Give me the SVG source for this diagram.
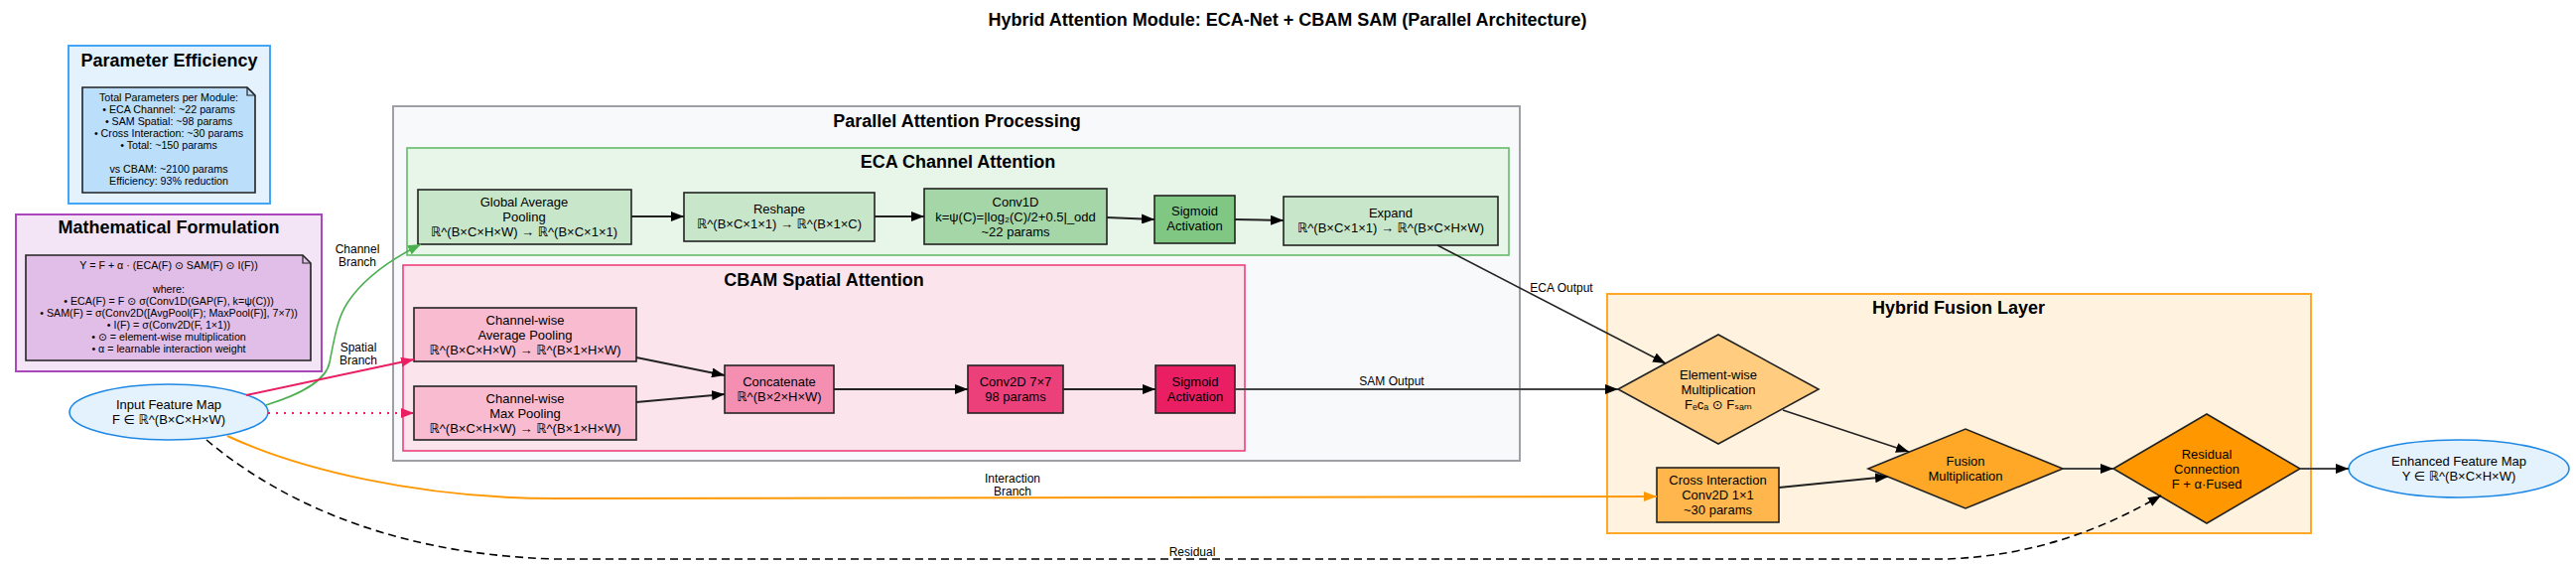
<svg xmlns="http://www.w3.org/2000/svg" width="2595" height="569" viewBox="0 0 2595 569">
<style>
text{font-family:"Liberation Sans","DejaVu Sans",Arial,sans-serif;text-anchor:middle;fill:#000}
.tt{font-size:18px;font-weight:bold}
.ct{font-size:18px;font-weight:bold}
.nt{font-size:13px}
.nn{font-size:10.7px}
.el{font-size:12px}
.box{stroke:#222;stroke-width:1.6}
.e{fill:none;stroke:#222;stroke-width:2}
</style>
<defs>
<marker id="ak" viewBox="0 0 13 10" refX="13" refY="5" markerWidth="13" markerHeight="10" markerUnits="userSpaceOnUse" orient="auto"><path d="M0,0 L13,5 L0,10 z" fill="#000"/></marker>
<marker id="ag" viewBox="0 0 13 10" refX="13" refY="5" markerWidth="13" markerHeight="10" markerUnits="userSpaceOnUse" orient="auto"><path d="M0,0 L13,5 L0,10 z" fill="#4caf50"/></marker>
<marker id="ap" viewBox="0 0 13 10" refX="13" refY="5" markerWidth="13" markerHeight="10" markerUnits="userSpaceOnUse" orient="auto"><path d="M0,0 L13,5 L0,10 z" fill="#e91e63"/></marker>
<marker id="ao" viewBox="0 0 13 10" refX="13" refY="5" markerWidth="13" markerHeight="10" markerUnits="userSpaceOnUse" orient="auto"><path d="M0,0 L13,5 L0,10 z" fill="#ff9800"/></marker>
</defs>
<rect width="2595" height="569" fill="#fff"/>
<text class="tt" x="1297" y="26">Hybrid Attention Module: ECA-Net + CBAM SAM (Parallel Architecture)</text>

<g id="cluster_params">
<rect x="69" y="46" width="203" height="159" fill="#e3f2fd" stroke="#42a5f5" stroke-width="2"/>
<text class="ct" x="170.5" y="67">Parameter Efficiency</text>
</g>
<g id="params_note">
<path d="M83,88 H249 L257,96 V194 H83 Z" fill="#bbdefb" stroke="#222" stroke-width="1.6"/>
<path d="M249,88 V96 H257" fill="none" stroke="#222" stroke-width="1.2"/>
<text class="nn" x="170" y="102">Total Parameters per Module:</text>
<text class="nn" x="170" y="114">• ECA Channel: ~22 params</text>
<text class="nn" x="170" y="126">• SAM Spatial: ~98 params</text>
<text class="nn" x="170" y="138">• Cross Interaction: ~30 params</text>
<text class="nn" x="170" y="150">• Total: ~150 params</text>
<text class="nn" x="170" y="174">vs CBAM: ~2100 params</text>
<text class="nn" x="170" y="186">Efficiency: 93% reduction</text>
</g>

<g id="cluster_math">
<rect x="16" y="216" width="308" height="158" fill="#f3e5f5" stroke="#ab47bc" stroke-width="2"/>
<text class="ct" x="170" y="235">Mathematical Formulation</text>
</g>
<g id="math_note">
<path d="M26,257 H305 L313,265 V363 H26 Z" fill="#e1bee7" stroke="#222" stroke-width="1.6"/>
<path d="M305,257 V265 H313" fill="none" stroke="#222" stroke-width="1.2"/>
<text class="nn" x="170" y="271">Y = F + α · (ECA(F) ⊙ SAM(F) ⊙ I(F))</text>
<text class="nn" x="170" y="295">where:</text>
<text class="nn" x="170" y="307">• ECA(F) = F ⊙ σ(Conv1D(GAP(F), k=ψ(C)))</text>
<text class="nn" x="170" y="319">• SAM(F) = σ(Conv2D([AvgPool(F); MaxPool(F)], 7×7))</text>
<text class="nn" x="170" y="331">• I(F) = σ(Conv2D(F, 1×1))</text>
<text class="nn" x="170" y="343">• ⊙ = element-wise multiplication</text>
<text class="nn" x="170" y="355">• α = learnable interaction weight</text>
</g>

<g id="cluster_parallel">
<rect x="396" y="107" width="1135" height="357" fill="#f8f9fa" stroke="#9ea0a6" stroke-width="2"/>
<text class="ct" x="964" y="128">Parallel Attention Processing</text>
</g>
<g id="cluster_eca">
<rect x="410" y="149" width="1110" height="108" fill="#e8f5e9" stroke="#66bb6a" stroke-width="1.6"/>
<text class="ct" x="965" y="169">ECA Channel Attention</text>
</g>
<g id="cluster_cbam">
<rect x="406" y="267" width="848" height="187" fill="#fce4ec" stroke="#ec407a" stroke-width="1.6"/>
<text class="ct" x="830" y="288">CBAM Spatial Attention</text>
</g>
<g id="cluster_fusion">
<rect x="1619" y="296" width="709" height="241" fill="#fff3e0" stroke="#ffa726" stroke-width="2"/>
<text class="ct" x="1973" y="316">Hybrid Fusion Layer</text>
</g>

<g id="input">
<ellipse cx="170" cy="415" rx="100" ry="28" fill="#e3f2fd" stroke="#1e88e5" stroke-width="1.6"/>
<text class="nt" x="170" y="412">Input Feature Map</text>
<text class="nt" x="170" y="427">F ∈ ℝ^(B×C×H×W)</text>
</g>

<g id="gap">
<rect class="box" x="421" y="191" width="215" height="55" fill="#c8e6c9"/>
<text class="nt" x="528" y="207.5">Global Average</text>
<text class="nt" x="528" y="222.5">Pooling</text>
<text class="nt" x="528" y="237.5">ℝ^(B×C×H×W) → ℝ^(B×C×1×1)</text>
</g>
<g id="reshape">
<rect class="box" x="689" y="194" width="192" height="49" fill="#c8e6c9"/>
<text class="nt" x="785" y="215">Reshape</text>
<text class="nt" x="785" y="230">ℝ^(B×C×1×1) → ℝ^(B×1×C)</text>
</g>
<g id="conv1d">
<rect class="box" x="931" y="190" width="184" height="56" fill="#a5d6a7"/>
<text class="nt" x="1023" y="207.5">Conv1D</text>
<text class="nt" x="1023" y="222.5">k=ψ(C)=|log₂(C)/2+0.5|_odd</text>
<text class="nt" x="1023" y="237.5">~22 params</text>
</g>
<g id="eca_sigmoid">
<rect class="box" x="1163" y="197" width="81" height="48" fill="#81c784"/>
<text class="nt" x="1203.5" y="217">Sigmoid</text>
<text class="nt" x="1203.5" y="232">Activation</text>
</g>
<g id="expand">
<rect class="box" x="1293" y="198" width="216" height="49" fill="#c8e6c9"/>
<text class="nt" x="1401" y="219">Expand</text>
<text class="nt" x="1401" y="234">ℝ^(B×C×1×1) → ℝ^(B×C×H×W)</text>
</g>

<g id="avgpool">
<rect class="box" x="417" y="310" width="224" height="54" fill="#f8bbd0"/>
<text class="nt" x="529" y="326.5">Channel-wise</text>
<text class="nt" x="529" y="341.5">Average Pooling</text>
<text class="nt" x="529" y="356.5">ℝ^(B×C×H×W) → ℝ^(B×1×H×W)</text>
</g>
<g id="maxpool">
<rect class="box" x="417" y="389" width="224" height="54" fill="#f8bbd0"/>
<text class="nt" x="529" y="405.5">Channel-wise</text>
<text class="nt" x="529" y="420.5">Max Pooling</text>
<text class="nt" x="529" y="435.5">ℝ^(B×C×H×W) → ℝ^(B×1×H×W)</text>
</g>
<g id="concat">
<rect class="box" x="730" y="368" width="110" height="48" fill="#f48fb1"/>
<text class="nt" x="785" y="388.5">Concatenate</text>
<text class="nt" x="785" y="403.5">ℝ^(B×2×H×W)</text>
</g>
<g id="conv2d">
<rect class="box" x="975" y="368" width="96" height="48" fill="#ec407a"/>
<text class="nt" x="1023" y="388.5">Conv2D 7×7</text>
<text class="nt" x="1023" y="403.5">98 params</text>
</g>
<g id="sam_sigmoid">
<rect class="box" x="1164" y="368" width="80" height="48" fill="#e91e63"/>
<text class="nt" x="1204" y="388.5">Sigmoid</text>
<text class="nt" x="1204" y="403.5">Activation</text>
</g>

<g id="elementwise">
<polygon class="box" points="1630,392 1731,337 1832,392 1731,447" fill="#ffcc80"/>
<text class="nt" x="1731" y="381.5">Element-wise</text>
<text class="nt" x="1731" y="396.5">Multiplication</text>
<text class="nt" x="1731" y="411.5">Fₑcₐ ⊙ Fₛₐₘ</text>
</g>
<g id="cross">
<rect class="box" x="1669" y="471" width="123" height="55" fill="#ffb74d"/>
<text class="nt" x="1730.5" y="488">Cross Interaction</text>
<text class="nt" x="1730.5" y="503">Conv2D 1×1</text>
<text class="nt" x="1730.5" y="518">~30 params</text>
</g>
<g id="fusion">
<polygon class="box" points="1882,472 1980,432 2078,472 1980,512" fill="#ffa726"/>
<text class="nt" x="1980" y="469">Fusion</text>
<text class="nt" x="1980" y="484">Multiplication</text>
</g>
<g id="residual">
<polygon class="box" points="2129,472 2223,417 2317,472 2223,527" fill="#ff9800"/>
<text class="nt" x="2223" y="461.5">Residual</text>
<text class="nt" x="2223" y="476.5">Connection</text>
<text class="nt" x="2223" y="491.5">F + α·Fused</text>
</g>
<g id="output">
<ellipse cx="2477" cy="472" rx="111" ry="29" fill="#e3f2fd" stroke="#1e88e5" stroke-width="1.6"/>
<text class="nt" x="2477" y="469">Enhanced Feature Map</text>
<text class="nt" x="2477" y="484">Y ∈ ℝ^(B×C×H×W)</text>
</g>

<g id="connectors">
<path d="M268,408 C300,398 328,385 332,365 C337,340 340,320 350,305 C365,282 392,262 424,246" fill="none" stroke="#4caf50" stroke-width="1.6" marker-end="url(#ag)"/>
<text class="el" x="360" y="255">Channel</text>
<text class="el" x="360" y="267.5">Branch</text>
<path d="M248,398 L417,362" fill="none" stroke="#e91e63" stroke-width="2" marker-end="url(#ap)"/>
<text class="el" x="361" y="354">Spatial</text>
<text class="el" x="361" y="366.5">Branch</text>
<path d="M270,416 L417,416" fill="none" stroke="#e91e63" stroke-width="2" stroke-dasharray="2,6" marker-end="url(#ap)"/>
<path d="M229,439 C300,472 420,502 560,502 L1669,500" fill="none" stroke="#ff9800" stroke-width="2" marker-end="url(#ao)"/>
<text class="el" x="1020" y="486">Interaction</text>
<text class="el" x="1020" y="499">Branch</text>
<path d="M208,443 C270,495 380,558 560,563 L1960,563 C2050,560 2120,532 2177,499" fill="none" stroke="#000" stroke-width="1.6" stroke-dasharray="8,5" marker-end="url(#ak)"/>
<text class="el" x="1201" y="560">Residual</text>
<path class="e" d="M636,218 L689,218" marker-end="url(#ak)"/>
<path class="e" d="M881,218 L931,218" marker-end="url(#ak)"/>
<path class="e" d="M1115,219 L1163,221" marker-end="url(#ak)"/>
<path class="e" d="M1244,221 L1293,222" marker-end="url(#ak)"/>
<path class="e" style="stroke-width:1.6" d="M1448,247 L1678,366" marker-end="url(#ak)"/>
<text class="el" x="1573" y="294">ECA Output</text>
<path class="e" d="M641,360 L730,378" marker-end="url(#ak)"/>
<path class="e" d="M641,405 L730,397" marker-end="url(#ak)"/>
<path class="e" d="M840,392 L975,392" marker-end="url(#ak)"/>
<path class="e" d="M1071,392 L1164,392" marker-end="url(#ak)"/>
<path class="e" style="stroke:#444" d="M1244,392 L1630,392" marker-end="url(#ak)"/>
<text class="el" x="1402" y="388">SAM Output</text>
<path class="e" style="stroke-width:1.6" d="M1796,413 L1923,455" marker-end="url(#ak)"/>
<path class="e" d="M1792,491 L1902,480" marker-end="url(#ak)"/>
<path class="e" style="stroke:#444" d="M2078,472 L2129,472" marker-end="url(#ak)"/>
<path class="e" style="stroke:#444" d="M2317,472 L2366,472" marker-end="url(#ak)"/>
</g>
</svg>
